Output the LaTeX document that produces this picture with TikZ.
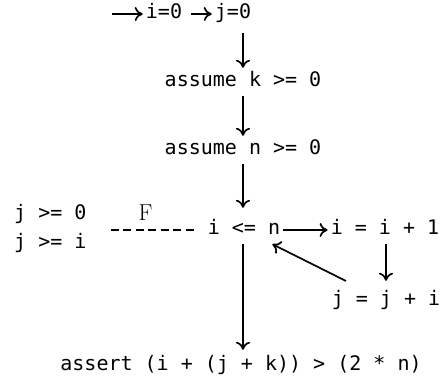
\documentclass[tikz,border=0pt]{standalone}
\usepackage{fontspec}
\setmonofont{DejaVu Sans Mono}
\usetikzlibrary{arrows.meta}
\begin{document}
\begin{tikzpicture}[x=1pt,y=-1pt,
  code/.style={font=\fontsize{20}{24}\selectfont\ttfamily, inner xsep=3pt, inner ysep=4pt, text height=15pt, text depth=5pt},
  arr/.style={-{To[length=8pt,width=14pt]}, line width=1.7pt},
  dashline/.style={line width=1.7pt, dash pattern=on 8pt off 4.5pt},
  lbl/.style={font=\fontsize{23}{25}\selectfont\rmfamily, inner sep=0pt}]
\useasboundingbox (0,0) rectangle (445,387);
\coordinate (s) at (112,14);
\node[code] (i0) at (164,14) {i=0};
\node[code] (j0) at (233,14) {j=0};
\node[code] (ak) at (243,82) {assume k >= 0};
\node[code] (an) at (243,150) {assume n >= 0};
\node[code] (ile) at (244,230) {i <= n};
\node[code] (ii) at (385,230) {i = i + 1};
\node[code] (jj) at (386,301) {j = j + i};
\node[code] (as) at (241,366) {assert (i + (j + k)) > (2 * n)};
\node[font=\fontsize{20}{29}\selectfont\ttfamily, align=left, inner sep=0pt, anchor=west] (inv) at (14,228) {j >= 0\\j >= i};

\draw[arr] (s) -- (i0);
\draw[arr, shorten <=6pt] (i0) -- (j0);
\draw[arr, shorten <=5pt] (j0.south -| ak.north) -- (ak.north);
\draw[arr] (ak) -- (an);
\draw[arr, shorten >=8pt] (an.south) -- (an.south |- ile.north);
\draw[arr] (ile) -- (ii);
\draw[arr, shorten >=6pt] (ii.south -| jj.north) -- (jj.north);
\draw[arr, shorten <=13pt] (jj) -- (ile);
\draw[arr, shorten >=2pt] (ile.south -| an.south) -- (as.north -| an.south);
\draw[dashline, shorten <=24pt, shorten >=8pt] (inv.east |- ile) -- (ile.west)
  node[lbl, midway, above=9pt] (f) {F};
\end{tikzpicture}
\end{document}
